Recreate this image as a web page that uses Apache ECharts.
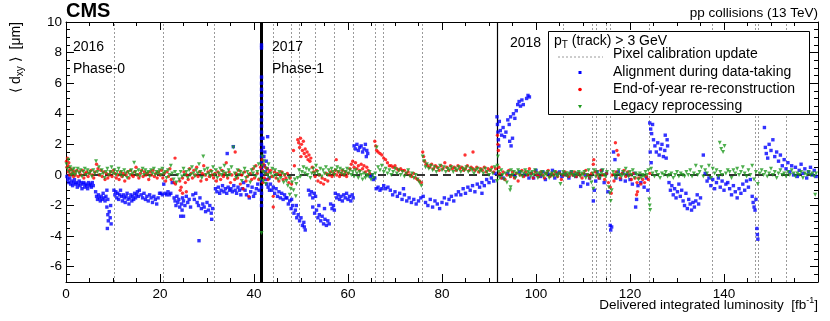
<!DOCTYPE html>
<html>
<head>
<meta charset="utf-8">
<script src="https://cdn.jsdelivr.net/npm/echarts@6/dist/echarts.min.js"></script>
<style>
  html, body { margin: 0; padding: 0; background: #fff; }
  #chart { width: 830px; height: 321px; }
</style>
</head>
<body>
<div id="chart"></div>
<script>
// ---- data (x: fb^-1, y: um) ----
var align2016 = [[0.2,-0.1],[0.4,-0.3],[0.6,-0.5],[0.8,-0.2],[1.0,-0.6],[1.2,-0.4],[1.4,-0.7],[1.6,-0.5],[1.8,-0.3],[2.0,-0.6],
  [2.2,-0.5],[2.4,-0.8],[2.6,-0.6],[2.8,-0.4],[3.0,-0.7],[3.2,-0.5],[3.4,-0.9],[3.6,-0.6],[3.8,-0.5],[4.0,-0.8],[4.2,-0.6],[4.4,-0.7],[4.6,-0.9],[4.8,-0.5],[5.0,-0.7],[5.2,-0.6],[5.4,-0.8],[5.6,-0.5],[5.8,-0.7],
  [6.3,-1.1],[6.5,-1.4],[6.7,-1.6],[6.9,-1.3],[7.1,-1.5],[7.3,-1.7],[7.5,-1.4],[7.7,-1.6],[7.9,-1.2],[8.1,-1.5],[8.3,-1.7],[8.5,-1.4],[8.7,-1.0],[8.9,-1.6],
  [8.7,-2.1],[8.9,-2.6],[9.0,-3.0],[8.8,-3.5],[9.2,-2.4],[9.4,-2.8],[9.6,-3.2],[9.5,-2.0],
  [10.2,-1.0],[10.4,-1.3],[10.6,-1.1],[10.8,-1.5],[11.0,-1.2],[11.2,-1.6],[11.4,-1.3],[11.6,-1.0],[11.8,-1.4],[12.0,-1.7],[12.2,-1.3],[12.4,-1.5],[12.6,-1.8],[12.8,-1.4],[13.0,-1.2],[13.2,-1.6],[13.4,-1.9],[13.6,-1.5],[13.8,-1.3],[14.0,-1.7],[14.2,-1.4],[14.4,-1.6],[14.6,-1.2],[14.8,-1.5],[15.0,-1.3],[15.2,-1.1],[15.4,-1.4],[15.6,-1.0],
  [16.0,-1.3],[16.3,-1.5],[16.6,-1.2],[16.9,-1.6],[17.2,-1.4],[17.5,-1.7],[17.8,-1.3],[18.1,-1.5],[18.4,-1.8],[18.7,-1.4],[19.0,-1.6],[19.3,-1.9],[19.6,-1.5],[19.9,-1.2],
  [20.2,-1.2],[20.5,-1.3],[20.8,-0.6],[21.1,-1.2],[21.4,-1.3],[21.7,-1.1],[22.0,-1.3],[22.3,-1.2],[22.6,-0.5],
  [23.0,-1.5],[23.2,-1.7],[23.4,-2.0],[23.6,-1.4],[23.8,-1.8],[24.0,-1.6],[24.2,-2.1],[24.4,-2.7],[24.6,-1.9],[24.8,-1.5],[25.0,-1.7],[25.3,-2.0],[25.6,-1.4],[25.9,-1.8],[26.2,-1.6],[26.5,-2.1],[24.7,-2.3],[25.0,-2.7],
  [27.0,-1.3],[27.3,-1.6],[27.6,-1.2],[27.9,-1.8],[28.2,-2.0],[28.5,-1.5],[28.8,-2.2],[29.1,-1.9],[29.4,-2.1],[29.7,-2.4],[30.0,-1.8],[30.3,-2.3],[30.6,-2.0],[30.9,-2.5],[31.2,-2.2],[28.3,-4.3],[31.0,-2.9],
  [31.8,-0.9],[32.1,-1.1],[32.4,-0.8],[32.7,-1.2],[33.0,-1.0],[33.3,-0.7],[33.6,-1.1],[33.9,-0.9],[34.2,-1.2],[34.5,-0.8],[34.8,-1.0],[35.1,-0.9],[35.4,-1.1],[35.7,-0.7],[36.0,-1.0],[36.3,-1.2],[36.6,-0.8],[36.9,-1.0],[37.2,-1.3],[37.5,-0.9],[34.3,1.4],[35.6,1.85],
  [37.8,-0.5],[38.1,-1.0],[38.4,-1.3],[38.7,-0.7],[39.0,-1.5],[39.3,-1.1],[39.6,-0.8],[39.9,-1.4],[40.2,-1.2],[40.5,-0.9],[40.8,-0.6],[41.1,-1.0],
  [41.6,8.5],[41.6,8.3],[41.6,6.4],[41.6,6.0],[41.6,5.6],[41.6,5.2],[41.6,4.8],[41.6,4.4],[41.6,4.0],[41.6,3.6],[41.6,3.2],[41.6,2.8],[41.6,2.4],[41.6,2.0],[41.6,1.6],[41.6,1.2],[41.6,0.8],[41.6,0.4],[41.6,0.0],[41.6,-0.4],[41.6,-0.8],[41.6,-1.2],[41.6,-1.6],[41.6,-2.0]];
var align2017 = [[41.9,2.4],[42.0,1.8],[42.1,1.2],[42.2,0.6],[42.3,1.5],[42.4,0.2],[42.5,-0.3],[42.6,0.9],[42.7,-0.6],[42.8,0.4],[43.0,-0.8],[43.2,-0.2],[43.3,-1.0],[42.9,2.5],
  [43.5,-0.6],[43.8,-1.0],[44.1,-0.8],[44.4,-1.2],[44.7,-0.9],[45.0,-1.4],[45.3,-1.1],[45.6,-1.5],[45.9,-1.2],[46.2,-1.6],[46.5,-1.3],[46.8,-1.5],
  [47.0,-1.5],[47.3,-1.9],[47.6,-1.7],[47.9,-2.2],[48.2,-2.0],[48.5,-2.5],[48.8,-2.3],[49.1,-2.8],[49.4,-2.6],[49.7,-3.0],[50.0,-2.8],[50.3,-3.3],[50.6,-3.1],[50.9,-3.6],[50.7,-3.4],[48.0,-1.6],[49.0,-2.0],
  [51.6,-1.0],[51.9,-1.3],[52.2,-1.1],[52.5,-1.5],[52.8,-1.2],[53.1,-1.4],
  [52.5,-2.1],[52.9,-2.5],[53.3,-2.3],[53.6,-2.8],[53.9,-2.6],[54.2,-3.0],[54.5,-2.7],[54.8,-3.2],[55.1,-2.9],[55.4,-3.3],[55.7,-3.0],[56.0,-3.2],[53.8,-2.0],[55.0,-2.2],
  [56.3,-1.9],[56.6,-2.2],[56.9,-2.0],[57.1,-2.3],
  [57.3,-1.2],[57.6,-1.5],[57.9,-1.3],[58.2,-1.6],[58.5,-1.4],[58.8,-1.7],[59.1,-1.3],[59.4,-1.5],[59.7,-1.2],[60.0,-1.6],[60.3,-1.4],[60.6,-1.7],[60.9,-1.3],[61.1,-1.5],
  [61.3,1.9],[61.6,1.7],[61.9,2.0],[62.2,1.6],[62.5,1.8],[62.8,1.9],[63.1,1.5],[63.4,1.7],[63.7,2.0],[64.0,1.6],[64.2,1.4],[63.9,1.2],
  [64.8,-0.1],[65.1,0.0],[65.4,-0.3],[65.7,-0.2],
  [66.0,-0.9],[66.4,-0.8],[66.8,-1.0],[67.2,-0.9],[67.6,-0.7],[68.0,-0.9],[68.5,-0.8],
  [69.0,-1.0],[69.5,-1.3],[70.0,-1.1],[70.5,-1.4],[71.0,-1.2],[71.5,-1.6],[72.0,-1.3],[72.5,-1.7],[73.0,-1.5],[73.5,-1.8],[74.0,-1.6],[74.5,-1.9],[75.0,-1.7],[75.5,-1.5],[71.8,-0.9],
  [76.0,-1.4],[76.5,-1.8],[77.0,-2.0],[77.5,-1.6],[78.0,-2.1],[78.5,-1.7],[79.0,-1.9],[79.5,-2.2],[80.0,-1.8],[80.5,-1.5],[81.0,-1.9],[81.5,-1.6],[82.0,-1.4],[82.5,-1.7],[83.0,-1.3],
  [83.5,-1.1],[84.0,-1.3],[84.5,-0.9],[85.0,-1.2],[85.5,-0.8],[86.0,-1.0],[86.5,-0.7],[87.0,-1.1],[87.5,-0.6],[88.0,-0.8],[88.5,-0.5],[89.0,-0.7],[89.5,-0.3],[90.0,-0.5],[90.5,-0.2],[91.0,-0.4],[91.3,0.1],[88.5,-1.2]];
var align2018 = [[91.7,3.8],[91.8,3.3],[91.9,2.8],[92.0,2.3],[92.1,1.9],[92.2,3.5],
  [92.4,2.9],[92.7,2.6],[93.0,3.1],[93.3,2.5],[93.6,2.8],[94.0,3.6],[94.3,3.3],[94.6,3.8],[94.4,2.2],[94.7,1.9],[95.0,2.4],[95.2,4.0],[95.5,3.7],[95.8,4.2],[96.1,4.6],[96.4,4.8],[96.7,4.5],[97.0,4.9],[97.3,4.6],[98.0,5.0],[98.3,5.2],[98.6,5.1],
  [93.0,-0.2],[94.0,0.1],[95.5,-0.1],[96.5,0.2],[97.5,0.0],[98.5,-0.2],
  [99.0,0.1],[99.5,-0.2],[100.0,0.3],[100.5,0.0],[101.0,-0.1],[101.5,0.2],[102.0,-0.3],[102.5,0.1],[103.0,0.0],[103.5,0.3],[104.0,-0.2],[104.5,0.1],[105.0,0.2],[105.5,-0.1],[106.0,0.1],[106.5,0.0],[107.0,-0.2],[107.5,0.2],[108.0,0.0],[108.5,-0.1],[109.0,0.1],[109.5,-0.75],[110.0,-0.5],[110.5,0.0],[111.0,-0.6],[111.4,-0.2],
  [112.2,-1.7],[112.4,-1.0],[112.7,-0.4],[113.0,0.2],[113.5,-0.2],[114.0,0.3],[114.5,-0.5],[115.0,0.1],[115.3,-1.1],[115.8,-3.3],[115.9,-3.6],[116.1,-3.4],[116.5,1.5],[116.8,1.0],[117.0,-0.2],[117.5,0.2],[118.0,-0.3],[118.5,0.1],[119.0,-0.4],[119.5,0.0],[120.0,-0.3],[120.5,-0.6],[121.0,0.1],[121.2,-2.1],[121.4,-1.6],[121.7,-0.7],[122.3,-0.5],[123.0,-0.8],[123.5,-0.2],[123.8,-1.0],
  [124.2,3.4],[124.4,3.0],[124.6,2.7],[124.8,3.3],[125.0,2.3],[124.3,1.5],[124.5,0.8],
  [125.3,1.9],[125.6,1.5],[125.9,2.1],[126.2,1.3],[126.5,1.7],[126.8,2.0],[127.1,1.2],[127.4,1.6],[127.7,1.1],[128.0,1.9],[127.9,2.3],[127.5,2.6],
  [128.3,-0.5],[128.6,-1.0],[128.9,-0.7],[129.2,-1.3],[129.5,-0.9],[129.8,-1.5],[130.1,-1.1],[130.4,-0.6],[130.7,-1.4],[131.0,-1.0],[131.3,-1.7],[131.6,-2.0],[131.9,-1.2],[132.2,-2.2],[132.5,-1.6],[132.8,-1.9],[133.1,-2.3],[133.4,-1.8],[133.7,-2.1],[134.0,-1.7],[134.3,-1.3],[134.6,-1.9],[135.0,-1.5],
  [135.6,1.3],
  [136.0,0.1],[136.4,-0.4],[136.8,-0.2],[137.2,-0.7],[137.6,-0.3],[138.0,-0.9],[138.4,-0.5],[138.8,-0.2],[139.2,-0.8],[139.6,-0.4],[140.0,-1.0],[140.4,-0.6],
  [140.8,-0.5],[141.2,-0.9],[141.6,-1.3],[142.0,-0.7],[142.4,-1.1],[142.8,-1.5],[143.2,-0.9],[143.6,-1.2],[144.0,-0.6],[144.4,-1.0],[144.8,-0.4],[145.2,-0.8],[145.6,-0.3],
  [146.0,-1.4],[146.2,-1.8],[146.4,-2.1],[146.6,-2.3],[146.8,-1.6],[147.0,-3.5],[147.1,-3.9],[147.2,-4.2],
  [148.6,3.1],[148.8,1.8],[149.0,1.4],[149.3,1.1],[149.6,2.0],[150.0,1.6],[150.4,2.3],[150.8,1.2],[151.2,1.5],[151.6,0.9],[152.0,1.3],[152.4,0.6],[152.8,1.0],[153.2,0.4],[153.6,0.8],[154.0,0.2],[154.4,0.6],[154.8,0.0],[155.2,0.5],[155.6,-0.1],[156.0,0.3],[156.4,0.7],[156.8,0.1],[157.2,0.4],[157.6,-0.2],[158.0,0.2],[158.4,0.5],[158.8,0.0],[159.2,0.3],[159.6,-0.1]];

var eoy2016 = [[0.1,0.9],[0.2,0.5],[0.3,1.1],[0.4,0.6],[0.5,0.2],[0.6,0.8],[0.7,0.3],[0.8,0.0],[1.0,0.4],[1.2,0.1],[1.4,0.3],[1.6,-0.1],[1.8,0.2],[2.0,0.0],[2.3,0.3],[2.6,-0.1],[2.9,0.2],[3.2,0.0],[3.5,0.3],[3.8,-0.2],[4.1,0.1],[4.4,0.2],[4.7,-0.1],[5.0,0.1],[5.3,0.3],[5.6,0.0],[5.9,-0.2],[6.2,0.2],[6.5,0.7],[6.8,0.4],[7.1,0.0],[7.4,0.3],[7.7,-0.1],[8.0,0.2],[8.3,-0.3],[8.6,0.1],[8.9,-0.2],[9.2,0.0],[9.5,0.2],[9.8,-0.1],
  [10.1,0.3],[10.4,0.1],[10.7,-0.2],[11.0,0.0],[11.3,-0.3],[11.6,0.2],[11.9,-0.1],[12.2,0.1],[12.5,-0.4],[12.8,0.0],[13.1,0.2],[13.4,-0.2],[13.7,0.3],[14.0,0.0],[14.3,-0.1],[14.6,0.2],[14.9,0.5],[15.2,0.0],[15.5,-0.2],[15.8,0.1],[16.1,0.3],[16.4,-0.1],[16.7,0.2],[17.0,0.0],[17.3,0.1],[17.6,-0.3],[17.9,0.2],[18.2,0.0],[18.5,0.3],[18.8,-0.1],[19.1,0.1],[19.4,-0.2],[19.7,0.2],[20.0,0.0],
  [20.3,0.3],[20.6,-0.2],[20.9,0.1],[21.2,-0.4],[21.5,0.2],[21.8,-0.1],[22.1,0.4],[22.4,-0.3],[23.2,1.1],[23.0,-0.5],[23.3,-0.6],[24.3,-1.0],[24.8,-1.2],[25.6,-1.1],[24.2,-0.4],[24.5,-0.8],[24.8,-0.2],[25.1,0.2],[25.4,-0.5],[25.7,0.0],[26.0,-0.3],[26.3,0.4],[26.6,0.1],[26.9,-0.2],[27.2,0.3],[27.5,0.0],[27.8,0.5],[28.1,-0.1],[28.4,0.2],[28.7,-0.4],[29.0,0.1],[29.3,0.6],[29.6,0.0],[29.9,-0.3],
  [30.2,0.2],[30.5,-0.1],[30.8,0.3],[31.1,0.0],[31.4,-0.2],[31.7,0.1],[32.0,-0.4],[32.3,0.2],[32.6,0.0],[32.9,-0.3],[33.2,0.3],[33.5,-0.1],[33.8,0.1],[34.1,0.8],[34.4,-0.2],[34.7,0.2],[35.0,-0.5],[35.3,0.0],[36.0,1.5],[35.9,-0.3],[36.2,0.1],[36.5,-0.2],[36.8,0.3],[37.1,-0.6],[37.4,0.0],[37.7,-0.9],[38.0,0.2],[38.3,-0.4],[38.6,-0.1],[38.9,-1.4],[39.2,0.1],[39.5,-0.3],[39.8,0.4],[40.1,-0.2],[40.4,0.6],[40.7,0.1],[41.0,-0.3],[41.4,0.5]];
var eoy2017 = [[41.7,1.0],[41.8,0.3],[41.9,-0.5],[42.0,0.7],[42.2,-0.2],[42.4,0.5],[42.6,0.1],[42.8,0.4],[43.0,-0.3],[43.2,0.2],
  [43.5,0.3],[43.8,-0.1],[44.1,-2.1],[44.1,-1.4],[44.4,0.2],[44.7,-0.2],[45.0,0.1],[45.3,-0.4],[45.6,0.0],[45.9,0.2],[46.2,-0.3],[46.5,0.0],[46.8,-0.2],[47.1,0.1],[47.4,-0.5],[47.7,-0.2],[48.0,-0.6],
  [48.4,1.6],[48.6,0.6],
  [49.3,2.3],[49.5,2.1],[49.7,1.8],[49.9,2.4],[50.1,2.0],[50.3,1.6],[50.5,2.2],[50.7,1.4],[50.9,1.7],[51.1,1.2],[51.3,1.5],[51.5,1.0],[51.7,1.3],[51.9,0.9],[52.1,1.1],[50.0,1.2],
  [52.4,0.5],[52.7,0.2],[53.0,-0.1],[53.3,0.3],[53.6,-0.4],[53.9,0.0],[54.2,-0.5],[54.5,-0.2],[54.8,-0.6],[55.1,-0.3],[55.4,0.1],[55.7,-0.4],[56.0,0.0],[56.3,0.2],[56.6,-0.1],
  [57.0,0.1],[57.3,0.3],[57.6,0.0],[57.9,0.2],[58.2,-0.1],[58.5,0.1],[58.8,0.3],[59.1,0.0],[59.4,0.2],[59.7,-0.1],[60.0,0.1],[57.5,1.0],
  [60.4,0.4],[60.7,0.7],[61.0,0.9],[61.3,0.5],[61.6,0.8],[61.9,0.4],[62.2,0.6],[62.5,0.3],[62.8,0.7],[63.1,0.4],[63.4,0.6],[63.7,0.2],[64.0,0.5],[64.3,0.3],[64.6,0.1],
  [65.7,2.2],[65.9,1.9],[66.1,1.6],
  [66.4,1.5],[66.8,1.4],[67.2,1.3],[67.6,1.1],[68.0,1.0],[68.4,0.8],[68.8,0.6],[69.2,0.6],[69.6,0.5],[70.0,0.6],[70.4,0.4],[70.8,0.3],[71.2,0.4],[71.6,0.3],[72.0,0.3],[72.4,0.1],[72.8,0.2],[73.2,0.0],[73.6,-0.1],[74.0,0.1],[74.4,-0.2],[74.8,-0.3],[75.2,-0.4],[75.6,-0.5],
  [75.9,1.5],[76.1,1.2],[76.3,0.9],[76.6,0.7],[77.0,0.6],[77.4,0.5],[77.8,0.7],[78.2,0.4],[78.6,0.6],[79.0,0.5],[79.4,0.3],[79.8,0.6],[80.2,0.4],[80.6,0.8],[81.0,0.5],[81.4,0.3],[81.8,0.6],[82.2,0.4],[82.6,0.5],[83.0,0.3],[83.4,0.6],[83.8,0.4],[84.2,0.5],[84.6,0.3],[84.9,1.3],[85.0,0.4],[85.4,0.6],[85.8,0.3],[86.2,0.5],[86.6,1.5],[86.6,0.4],[87.0,0.3],[87.4,0.5],[87.8,0.2],[88.2,0.4],[88.6,0.3],[89.0,0.5],[89.4,0.2],[89.8,0.4],[90.2,0.3],[90.6,0.5],[91.0,0.2],[91.4,0.4]];
var eoy2018 = [[91.8,2.6],[91.9,2.0],[92.0,1.6],[92.1,0.5],[92.3,0.1],[92.6,-0.2],[93.0,0.2],[93.4,-0.3],[93.8,0.0],[94.2,0.3],[94.6,-0.1],[95.0,0.2],[95.4,-0.2],[95.8,0.1],[96.2,-0.4],[96.6,0.0],[97.0,0.3],[97.4,-0.1],[97.8,0.2],[98.2,0.0],[98.6,0.4],[99.0,0.1],[99.4,-0.2],[99.8,0.2],
  [100.2,0.0],[100.6,-0.1],[101.0,0.2],[101.4,0.0],[101.8,-0.2],[102.2,0.1],[102.6,0.3],[103.0,-0.1],[103.4,0.1],[103.8,0.0],[104.2,0.2],[104.6,-0.1],[105.0,0.1],[105.4,-0.3],[105.8,0.0],[106.2,0.2],[106.6,0.0],[107.0,-0.1],[107.4,0.1],[107.8,0.0],[108.2,0.2],[108.6,-0.1],[109.0,0.1],[109.4,0.0],[109.8,-0.2],
  [110.2,0.1],[110.6,0.3],[111.0,0.0],[111.4,-0.2],[111.8,0.1],[112.2,0.7],[112.3,1.0],[112.6,0.2],[113.0,0.0],[113.4,-0.2],[113.8,0.3],[114.2,0.0],[114.6,-0.3],[115.0,0.1],[115.4,-0.5],[115.8,-0.8],[116.0,-1.2],[116.2,0.0],[116.6,-0.4],[117.0,0.2],[116.9,2.1],[117.2,1.6],[117.5,1.3],[117.9,-0.2],
  [118.3,0.1],[118.7,0.3],[119.1,-0.1],[119.5,0.2],[119.9,0.0],[120.3,-0.3],[120.7,0.1],[121.1,-0.2],[121.4,-1.3],[121.6,-1.1],[121.5,-0.5],[121.9,-0.2],[122.3,-0.6],[122.7,-0.3],[123.1,-0.5],[123.5,-0.1],[123.9,-0.3],[124.2,0.1]];

var legacy2016 = [[0.1,0.7],[0.3,0.4],[0.5,1.0],[0.7,0.2],[0.9,0.5],[1.1,0.0],[1.3,0.3],[1.5,0.1],[1.7,0.4],[1.9,0.0],[2.2,0.2],[2.5,0.4],[2.8,0.1],[3.1,0.3],[3.4,-0.1],[3.7,0.2],[4.0,0.4],[4.3,0.0],[4.6,0.3],[4.9,0.1],[5.2,0.2],[5.5,-0.1],[5.8,0.3],[6.1,0.1],[6.4,0.9],[6.7,0.2],[7.0,0.5],[7.3,0.0],[7.6,0.3],[7.9,0.1],[8.2,-0.2],[8.5,0.2],[8.8,0.4],[9.1,0.0],[9.4,0.2],[9.7,0.5],
  [10.0,0.1],[10.3,0.3],[10.6,0.0],[10.9,0.2],[11.2,0.4],[11.5,0.0],[11.8,0.2],[12.1,-0.1],[12.4,0.3],[12.7,0.1],[13.0,-0.2],[13.3,0.2],[13.6,0.0],[13.9,0.3],[14.2,0.1],[14.5,0.8],[14.8,0.2],[15.1,0.0],[15.4,0.3],[15.7,-0.1],[16.0,0.2],[16.3,0.4],[16.6,0.0],[16.9,0.3],[17.2,0.1],[17.5,0.2],[17.8,-0.1],[18.1,0.3],[18.4,0.1],[18.7,0.4],[19.0,0.0],[19.3,0.2],[19.6,0.1],[19.9,0.3],
  [20.2,0.0],[20.5,0.4],[20.8,0.1],[21.1,0.2],[21.4,-0.2],[21.7,0.3],[22.0,0.0],[22.3,0.6],[22.6,0.1],[22.9,-0.3],[23.2,0.2],[23.5,-0.5],[23.8,0.0],[24.1,-0.3],[24.4,0.2],[24.7,-0.1],[25.0,0.4],[25.3,0.0],[25.6,0.2],[25.9,-0.2],[26.2,0.3],[26.5,0.0],[26.8,0.5],[27.1,0.1],[27.4,-0.1],[27.7,0.3],[28.0,0.1],[28.3,0.7],[28.6,0.2],[28.9,-0.2],[29.2,1.2],[29.5,0.3],[29.8,0.0],
  [30.1,0.4],[30.4,0.1],[30.7,-0.1],[31.0,0.2],[31.3,0.5],[31.6,0.0],[31.9,0.3],[32.2,-0.2],[32.5,0.1],[32.8,0.4],[33.1,0.0],[33.4,0.2],[33.7,0.6],[34.0,0.1],[34.3,-0.1],[34.6,0.3],[34.9,0.0],[35.2,0.5],[35.6,1.8],[35.9,0.1],[36.2,-0.2],[36.5,0.3],[36.8,0.0],[37.1,0.2],[37.4,-0.4],[37.7,0.1],[38.0,0.4],[38.3,-0.2],[38.6,0.2],[38.9,0.0],[39.2,-0.5],[39.5,0.3],[39.8,0.1],[40.1,0.5],[40.4,-0.1],[40.7,0.2],[41.0,0.7],[41.3,-0.3]];
var legacy2017 = [[41.6,-3.8],[41.7,0.6],[41.8,1.2],[41.9,0.2],[42.0,-0.4],[42.1,0.9],[42.3,0.1],[42.5,-0.6],[42.7,0.4],[42.9,0.0],[43.1,0.7],[43.3,-0.2],
  [43.6,0.1],[43.9,0.4],[44.2,-0.1],[44.5,0.3],[44.8,0.0],[45.1,-0.3],[45.4,0.2],[45.7,-0.2],[46.0,0.1],[46.3,-0.5],[46.6,0.0],[46.9,-0.4],[47.2,-0.7],[47.5,-0.2],[47.8,-0.9],[48.1,-0.5],[48.4,-1.0],[48.7,-0.3],[47.6,-1.3],[48.9,-1.4],
  [49.0,-0.6],[49.3,-0.2],[49.6,0.3],[49.9,-0.1],[50.2,0.2],[50.5,0.5],[50.8,0.1],[51.1,0.4],[51.4,0.0],[51.7,0.3],[52.0,-0.2],[52.3,0.1],
  [52.6,0.4],[52.9,0.1],[53.2,0.6],[53.5,0.2],[53.8,0.0],[54.1,0.4],[54.4,-0.1],[54.7,0.3],[55.0,0.1],[55.3,0.5],[55.6,0.0],[55.9,0.3],[56.2,0.1],[56.5,0.4],[56.8,0.2],[57.1,0.0],[57.4,0.3],[57.7,0.5],[58.0,0.2],[58.3,0.4],[58.6,0.1],[58.9,0.3],[59.2,0.0],[59.5,0.2],[59.8,0.4],
  [60.1,0.1],[60.4,0.3],[60.7,0.0],[61.0,0.2],[61.3,-0.1],[61.6,0.3],[61.9,0.1],[62.2,-0.2],[62.5,0.2],[62.8,0.0],[63.1,-0.3],[63.4,0.1],[63.7,-0.2],[64.0,0.0],[64.3,-0.1],[64.6,0.2],[64.9,-0.3],[65.2,0.0],[65.5,-0.2],[65.8,0.1],[66.1,1.8],
  [66.4,0.5],[66.8,0.3],[67.2,0.6],[67.6,0.2],[68.0,0.4],[68.4,0.1],[68.8,0.3],[69.2,0.0],[69.6,0.2],[70.0,0.4],[70.4,0.1],[70.8,0.3],[71.2,0.0],[71.6,0.2],[72.0,-0.1],[72.4,0.1],[72.8,0.3],[73.2,-0.1],[73.6,0.1],[74.0,-0.2],[74.4,0.0],[74.8,-0.3],[75.2,-0.5],[75.6,-0.7],
  [75.9,1.2],[76.2,0.9],[76.5,0.5],[76.8,0.7],[77.2,0.4],[77.6,0.6],[78.0,0.3],[78.4,0.5],[78.8,0.2],[79.2,0.4],[79.6,0.6],[80.0,0.3],[80.4,0.5],[80.8,0.2],[81.2,0.4],[81.6,0.3],[82.0,0.5],[82.4,0.2],[82.8,0.4],[83.2,0.3],[83.6,0.5],[84.0,0.2],[84.4,0.4],[84.8,0.3],[85.2,0.5],[85.6,0.2],[86.0,0.4],[86.4,0.3],[86.8,0.1],[87.2,0.3],[87.6,0.4],[88.0,0.2],[88.4,0.3],[88.8,0.1],[89.2,0.4],[89.6,0.2],[90.0,0.0],[90.4,0.3],[90.8,0.1],[91.2,0.5]];
var legacy2018 = [[91.7,-0.4],[91.8,0.6],[91.9,1.2],[92.1,0.2],[92.3,-0.2],[92.6,0.3],[92.9,0.0],[93.2,-0.3],[93.5,0.1],[93.8,-0.5],[94.1,0.2],[94.4,-0.1],[94.5,-1.0],[94.6,-0.8],[94.7,0.3],[95.0,0.0],[95.3,0.2],[95.6,-0.2],[95.9,0.1],[96.2,0.3],[96.5,0.0],[96.8,0.2],[97.1,-0.1],[97.4,0.1],[97.7,0.3],[98.0,0.0],[98.3,0.2],[98.6,0.1],[98.9,-0.1],[99.2,0.2],[99.5,0.0],[99.8,0.3],
  [100.1,0.1],[100.4,-0.2],[100.7,0.1],[101.0,0.0],[101.3,0.2],[101.6,-0.1],[101.9,0.1],[102.2,0.0],[102.5,0.2],[102.8,-0.2],[103.1,0.0],[103.4,0.1],[103.7,-0.1],[104.0,0.2],[104.3,0.0],[104.6,-0.1],[104.9,0.1],[105.2,-0.6],[105.5,0.0],[105.8,0.2],[106.1,0.0],[106.4,0.1],[106.7,-0.1],[107.0,0.1],[107.3,0.0],[107.6,0.2],[107.9,0.0],[108.2,-0.1],[108.5,0.1],[108.8,0.0],[109.1,0.2],[109.4,-0.1],[109.7,0.1],
  [110.0,0.0],[110.3,0.2],[110.6,-0.2],[110.9,0.0],[111.2,0.3],[111.5,-0.2],[111.8,-0.5],[112.1,0.1],[112.2,-0.9],[112.4,0.3],[112.7,-0.1],[113.0,0.2],[113.3,0.0],[113.6,-0.2],[113.9,0.1],[114.2,0.3],[114.5,0.0],[114.8,-0.1],[115.1,0.2],[115.5,-0.8],[115.7,-1.2],[115.9,-1.7],[116.1,-1.0],[116.4,0.2],[116.7,0.0],[117.0,-0.2],[117.3,0.1],[117.6,0.3],[117.9,0.0],[118.2,-0.1],[118.5,0.2],[118.8,0.0],[119.1,0.4],[119.4,0.1],[119.7,-0.1],
  [120.0,0.2],[120.3,0.0],[120.6,0.3],[120.9,-0.2],[121.2,0.1],[121.5,0.0],[121.8,-0.3],[122.1,0.1],[122.4,-0.2],[122.7,0.0],[123.0,-0.1],[123.3,0.2],[123.6,0.0],[123.9,0.3],[124.1,-1.6],[124.2,-2.0],[124.3,-2.3],[124.5,0.4],
  [124.8,0.1],[125.2,-0.1],[125.6,0.2],[126.0,0.0],[126.4,-0.2],[126.8,0.1],[127.2,0.0],[127.6,0.2],[128.0,-0.1],[128.4,0.0],[128.8,0.1],[129.2,-0.2],[129.6,0.0],[130.0,0.2],[130.4,-0.1],[130.8,0.1],[131.2,0.0],[131.6,-0.1],[132.0,0.2],[132.4,0.0],[132.8,0.3],[133.2,-0.1],[133.6,0.1],[134.0,0.6],[134.4,0.0],[134.8,0.2],[135.2,0.5],[135.6,-0.1],[136.0,0.3],[136.4,0.1],[136.8,0.6],[137.2,-0.2],[137.6,0.4],[138.0,0.1],[138.4,0.3],[138.8,-0.1],
  [139.1,2.1],[139.4,1.7],[139.8,1.5],[140.1,1.9],[139.2,0.2],[139.6,0.0],[140.4,0.1],[140.8,0.3],[141.2,0.2],[141.6,-0.2],[142.0,0.3],[142.4,0.1],[142.8,0.4],[143.2,0.0],[143.6,0.2],[144.0,0.5],[144.4,0.1],[144.8,-0.1],[145.2,0.3],[145.6,0.0],[146.0,0.6],[146.4,-0.3],[146.8,0.2],[147.2,-0.6],[147.6,0.1],[148.0,0.3],[148.4,0.0],[148.8,0.2],[149.2,-0.1],[149.6,0.1],
  [150.0,0.4],[150.4,0.0],[150.8,0.2],[151.2,-0.2],[151.6,0.1],[152.0,0.3],[152.4,0.0],[152.8,0.1],[153.2,-0.1],[153.6,0.2],[154.0,0.0],[154.4,0.3],[154.8,0.1],[155.2,-0.1],[155.6,0.1],[156.0,0.0],[156.4,0.2],[156.8,-0.2],[157.2,0.1],[157.6,0.0],[158.0,0.2],[158.4,0.0],[158.8,0.1],[159.2,-0.1],[159.4,-1.3],[159.6,0.1]];

// pixel calibration updates (dotted) and year boundaries (solid)
var pixelUpdates = [10.2, 20.6, 31.5, 44.1, 48.0, 49.6, 53.1, 57.1, 61.1, 65.7, 67.4, 75.9,
  105.8, 112.0, 112.8, 115.0, 115.7, 124.1, 137.4, 146.6, 147.3, 153.3];
var phase1Start = 41.6;
var year2018Start = 91.8;
var yMajorTicks = [-6, -4, -2, 0, 2, 4, 6, 8, 10];

var FONT = '"Liberation Sans", Arial, Helvetica, sans-serif';
var BLUE = '#0000ff', RED = '#ff0000', GREEN = '#1f9a1f';

function yAxisDef(pos, major) {
  var a = {
    type: 'value', position: pos, min: -7, max: 10,
    splitLine: { show: false },
    axisLine: { show: !major, lineStyle: { color: '#000', width: 1 } },
    axisLabel: { show: false }
  };
  if (major) {
    a.axisTick = { show: true, inside: true, length: 8, customValues: yMajorTicks, lineStyle: { color: '#000' } };
    if (pos === 'left') {
      a.axisLabel = { show: true, customValues: yMajorTicks, color: '#000', fontSize: 13.5, fontFamily: FONT, margin: 4 };
    }
  } else {
    a.interval = 0.5;
    a.axisTick = { show: true, inside: true, length: 4, lineStyle: { color: '#000' } };
  }
  return a;
}

function xAxisDef(pos) {
  return {
    type: 'value', position: pos, min: 0, max: 160, interval: 20,
    splitLine: { show: false },
    axisLine: { show: true, onZero: false, lineStyle: { color: '#000', width: 1 } },
    axisTick: { show: true, inside: true, length: 8, lineStyle: { color: '#000' } },
    minorTick: { show: true, splitNumber: 4, length: 4, lineStyle: { color: '#000' } },
    axisLabel: {
      show: pos === 'bottom', color: '#000', fontSize: 13.5, fontFamily: FONT, margin: 5,
      formatter: function (v) { return v >= 160 ? '' : String(v); }
    }
  };
}

function scatter(name, data, color, symbol, rotate) {
  return {
    name: name, type: 'scatter', data: data, symbol: symbol, symbolRotate: rotate || 0,
    symbolSize: symbol === 'triangle' ? 4 : 3.4,
    itemStyle: { color: color }, silent: true, z: 10
  };
}

var lineMarks = pixelUpdates.map(function (v) {
  return { xAxis: v, lineStyle: { color: '#9a9a9a', width: 1, type: [2, 2] } };
});
lineMarks.push({ xAxis: phase1Start, lineStyle: { color: '#000', width: 3, type: 'solid' } });
lineMarks.push({ xAxis: year2018Start, lineStyle: { color: '#000', width: 1.2, type: 'solid' } });
lineMarks.push({ yAxis: 0, lineStyle: { color: '#333', width: 1.8, type: [8, 5] } });

var option = {
  animation: false,
  backgroundColor: '#fff',
  grid: { left: 66, right: 12, top: 22, bottom: 39 },
  xAxis: [xAxisDef('bottom'), xAxisDef('top')],
  yAxis: [yAxisDef('left', false), yAxisDef('left', true), yAxisDef('right', false), yAxisDef('right', true)],
  series: [
    {
      type: 'scatter', data: [], z: 1, silent: true,
      markLine: { silent: true, z: 1, symbol: 'none', label: { show: false }, data: lineMarks }
    },
    scatter('Alignment during data-taking', align2016.concat(align2017, align2018), BLUE, 'rect'),
    scatter('End-of-year re-reconstruction', eoy2016.concat(eoy2017, eoy2018), RED, 'circle'),
    scatter('Legacy reprocessing', legacy2016.concat(legacy2017, legacy2018), GREEN, 'triangle', 180)
  ],
  graphic: [
    { type: 'text', z: 100, left: 66, top: 1, style: { text: 'CMS', font: 'bold 20px ' + FONT, fill: '#000' } },
    { type: 'text', z: 100, right: 12, top: 6, style: { text: 'pp collisions (13 TeV)', font: '13.5px ' + FONT, fill: '#000' } },
    { type: 'text', z: 100, x: 73, y: 36, style: { text: '2016\nPhase-0', font: '14px ' + FONT, fill: '#000', lineHeight: 22 } },
    { type: 'text', z: 100, x: 272, y: 36, style: { text: '2017\nPhase-1', font: '14px ' + FONT, fill: '#000', lineHeight: 22 } },
    { type: 'text', z: 100, x: 510, y: 36, style: { text: '2018', font: '14px ' + FONT, fill: '#000' } },
    // y title
    {
      type: 'text', z: 100, x: 16, y: 22, rotation: Math.PI / 2,
      style: {
        text: '{n|⟨ d}{s|xy}{n| ⟩  [μm]}', align: 'right', verticalAlign: 'middle',
        rich: {
          n: { fontSize: 14, fontFamily: FONT, fill: '#000', lineHeight: 18, verticalAlign: 'middle' },
          s: { fontSize: 10, fontFamily: FONT, fill: '#000', lineHeight: 10, verticalAlign: 'bottom' }
        }
      }
    },
    // x title
    {
      type: 'text', z: 100, x: 818, y: 305,
      style: {
        text: '{n|Delivered integrated luminosity  [fb}{s|-1}{n|]}', align: 'right', verticalAlign: 'middle',
        rich: {
          n: { fontSize: 13.5, fontFamily: FONT, fill: '#000', lineHeight: 18, verticalAlign: 'middle' },
          s: { fontSize: 9, fontFamily: FONT, fill: '#000', lineHeight: 9, verticalAlign: 'top' }
        }
      }
    },
    // legend box
    { type: 'rect', z: 100, shape: { x: 548.5, y: 31.5, width: 261, height: 83 }, style: { fill: '#fff', stroke: '#000', lineWidth: 1 } },
    {
      type: 'text', z: 101, x: 554, y: 41,
      style: {
        text: '{n|p}{s|T}{n| (track) > 3 GeV}', verticalAlign: 'middle',
        rich: {
          n: { fontSize: 14, fontFamily: FONT, fill: '#000', lineHeight: 18, verticalAlign: 'middle' },
          s: { fontSize: 10, fontFamily: FONT, fill: '#000', lineHeight: 10, verticalAlign: 'bottom' }
        }
      }
    },
    { type: 'line', z: 101, shape: { x1: 558, y1: 57, x2: 603, y2: 57 }, style: { stroke: '#9a9a9a', lineWidth: 1, lineDash: [2, 2] } },
    { type: 'text', z: 101, x: 613, y: 54, style: { text: 'Pixel calibration update', font: '14px ' + FONT, fill: '#000', verticalAlign: 'middle' } },
    { type: 'rect', z: 101, shape: { x: 578.5, y: 71, width: 3, height: 3 }, style: { fill: BLUE } },
    { type: 'text', z: 101, x: 613, y: 72, style: { text: 'Alignment during data-taking', font: '14px ' + FONT, fill: '#000', verticalAlign: 'middle' } },
    { type: 'circle', z: 101, shape: { cx: 580, cy: 89.5, r: 1.8 }, style: { fill: RED } },
    { type: 'text', z: 101, x: 613, y: 89, style: { text: 'End-of-year re-reconstruction', font: '14px ' + FONT, fill: '#000', verticalAlign: 'middle' } },
    { type: 'polygon', z: 101, shape: { points: [[578, 105], [582, 105], [580, 108.5]] }, style: { fill: GREEN } },
    { type: 'text', z: 101, x: 613, y: 106, style: { text: 'Legacy reprocessing', font: '14px ' + FONT, fill: '#000', verticalAlign: 'middle' } }
  ]
};

var myChart = echarts.init(document.getElementById('chart'), null, { renderer: 'canvas' });
myChart.setOption(option);
window.onresize = myChart.resize;
</script>
</body>
</html>
